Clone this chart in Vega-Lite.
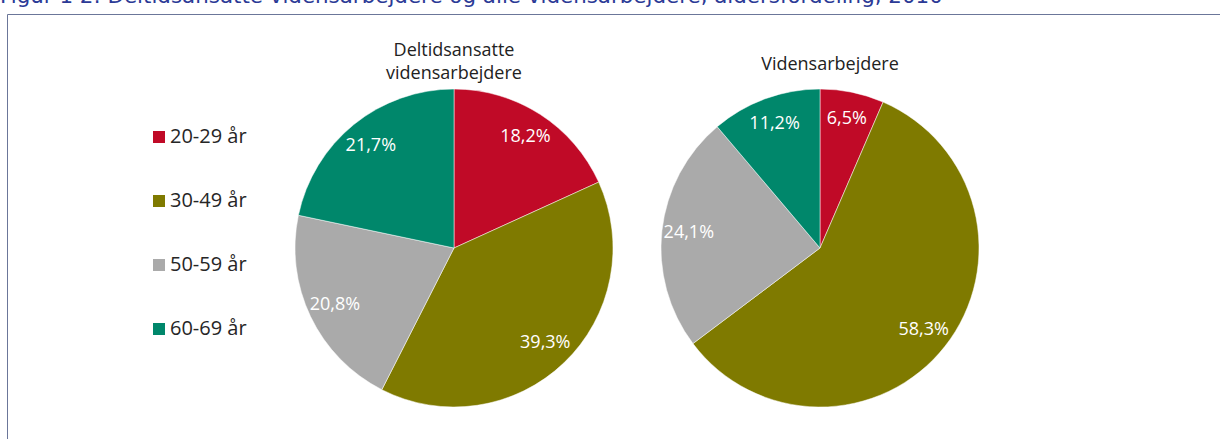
{
  "$schema": "https://vega.github.io/schema/vega-lite/v6.json",
  "width": 1300,
  "height": 468,
  "autosize": {"type": "none"},
  "padding": {"left": 7, "top": 14, "right": 0, "bottom": 0},
  "background": "white",
  "title": {
    "text": "Figur 1 2: Deltidsansatte vidensarbejdere og alle vidensarbejdere, aldersfordeling, 2010",
    "anchor": "start",
    "frame": "group",
    "orient": "top",
    "offset": -10,
    "dx": -7,
    "font": "DejaVu Sans",
    "fontSize": 21.4,
    "fontWeight": "normal",
    "color": "#2b3a96",
    "baseline": "alphabetic"
  },
  "datasets": {
    "pies": [
      {"group": "Deltidsansatte vidensarbejdere", "age": "20-29 år", "value": 18.2, "label": "18,2%"},
      {"group": "Deltidsansatte vidensarbejdere", "age": "30-49 år", "value": 39.3, "label": "39,3%"},
      {"group": "Deltidsansatte vidensarbejdere", "age": "50-59 år", "value": 20.8, "label": "20,8%"},
      {"group": "Deltidsansatte vidensarbejdere", "age": "60-69 år", "value": 21.7, "label": "21,7%"},
      {"group": "Vidensarbejdere", "age": "20-29 år", "value": 6.5, "label": "6,5%"},
      {"group": "Vidensarbejdere", "age": "30-49 år", "value": 58.3, "label": "58,3%"},
      {"group": "Vidensarbejdere", "age": "50-59 år", "value": 24.1, "label": "24,1%"},
      {"group": "Vidensarbejdere", "age": "60-69 år", "value": 11.2, "label": "11,2%"}
    ],
    "titles": [
      {"group": "Deltidsansatte vidensarbejdere", "title": "Deltidsansatte\nvidensarbejdere"},
      {"group": "Vidensarbejdere", "title": "Vidensarbejdere"}
    ]
  },
  "data": {"name": "pies"},
  "encoding": {
    "x": {
      "field": "group",
      "type": "nominal",
      "axis": null,
      "scale": {"type": "point", "domain": ["Deltidsansatte vidensarbejdere", "Vidensarbejdere"], "range": [447, 813], "padding": 0}
    }
  },
  "layer": [
    {
      "transform": [{"filter": "datum.group === 'Deltidsansatte vidensarbejdere'"}],
      "mark": {"type": "arc", "outerRadius": 159, "stroke": "white", "strokeWidth": 0.5},
      "encoding": {
        "theta": {"field": "value", "type": "quantitative", "stack": "normalize"},
        "color": {
          "field": "age",
          "type": "nominal",
          "scale": {"domain": ["20-29 år", "30-49 år", "50-59 år", "60-69 år"], "range": ["#c00a27", "#7f7a00", "#aaaaaa", "#00876b"]},
          "legend": {
            "title": null,
            "orient": "none",
            "legendX": 142,
            "legendY": 113,
            "symbolType": "square",
            "symbolSize": 144,
            "symbolStrokeWidth": 0,
            "labelFont": "Open Sans",
            "labelFontSize": 20,
            "labelColor": "#262626",
            "labelOffset": 1,
            "rowPadding": 44,
            "padding": 0
          }
        },
        "order": {"field": "age", "type": "ordinal"}
      }
    },
    {
      "transform": [{"filter": "datum.group === 'Vidensarbejdere'"}],
      "mark": {"type": "arc", "outerRadius": 159, "stroke": "white", "strokeWidth": 0.5},
      "encoding": {
        "theta": {"field": "value", "type": "quantitative", "stack": "normalize"},
        "color": {"field": "age", "type": "nominal"},
        "order": {"field": "age", "type": "ordinal"}
      }
    },
    {
      "transform": [{"filter": "datum.group === 'Deltidsansatte vidensarbejdere'"}],
      "mark": {"type": "text", "radius": 132, "fill": "white", "font": "Open Sans", "fontSize": 18, "align": "center", "baseline": "middle"},
      "encoding": {
        "theta": {"field": "value", "type": "quantitative", "stack": "normalize"},
        "detail": {"field": "age", "type": "nominal"},
        "order": {"field": "age", "type": "ordinal"},
        "text": {"field": "label", "type": "nominal"}
      }
    },
    {
      "transform": [{"filter": "datum.group === 'Vidensarbejdere'"}],
      "mark": {"type": "text", "radius": 132, "fill": "white", "font": "Open Sans", "fontSize": 18, "align": "center", "baseline": "middle"},
      "encoding": {
        "theta": {"field": "value", "type": "quantitative", "stack": "normalize"},
        "detail": {"field": "age", "type": "nominal"},
        "order": {"field": "age", "type": "ordinal"},
        "text": {"field": "label", "type": "nominal"}
      }
    },
    {
      "data": {"name": "titles"},
      "transform": [{"filter": "datum.group === 'Deltidsansatte vidensarbejdere'"}],
      "mark": {"type": "text", "theta": 0, "radius": 197, "lineBreak": "\n", "lineHeight": 23, "fill": "#222222", "font": "Open Sans", "fontSize": 18, "align": "center", "baseline": "middle"},
      "encoding": {
        "text": {"field": "title", "type": "nominal"}
      }
    },
    {
      "data": {"name": "titles"},
      "transform": [{"filter": "datum.group === 'Vidensarbejdere'"}],
      "mark": {"type": "text", "theta": 0, "radius": 183, "dx": 10, "fill": "#222222", "font": "Open Sans", "fontSize": 18, "align": "center", "baseline": "middle"},
      "encoding": {
        "text": {"field": "title", "type": "nominal"}
      }
    }
  ],
  "config": {
    "view": {"stroke": "#6b7699", "strokeWidth": 1}
  }
}
